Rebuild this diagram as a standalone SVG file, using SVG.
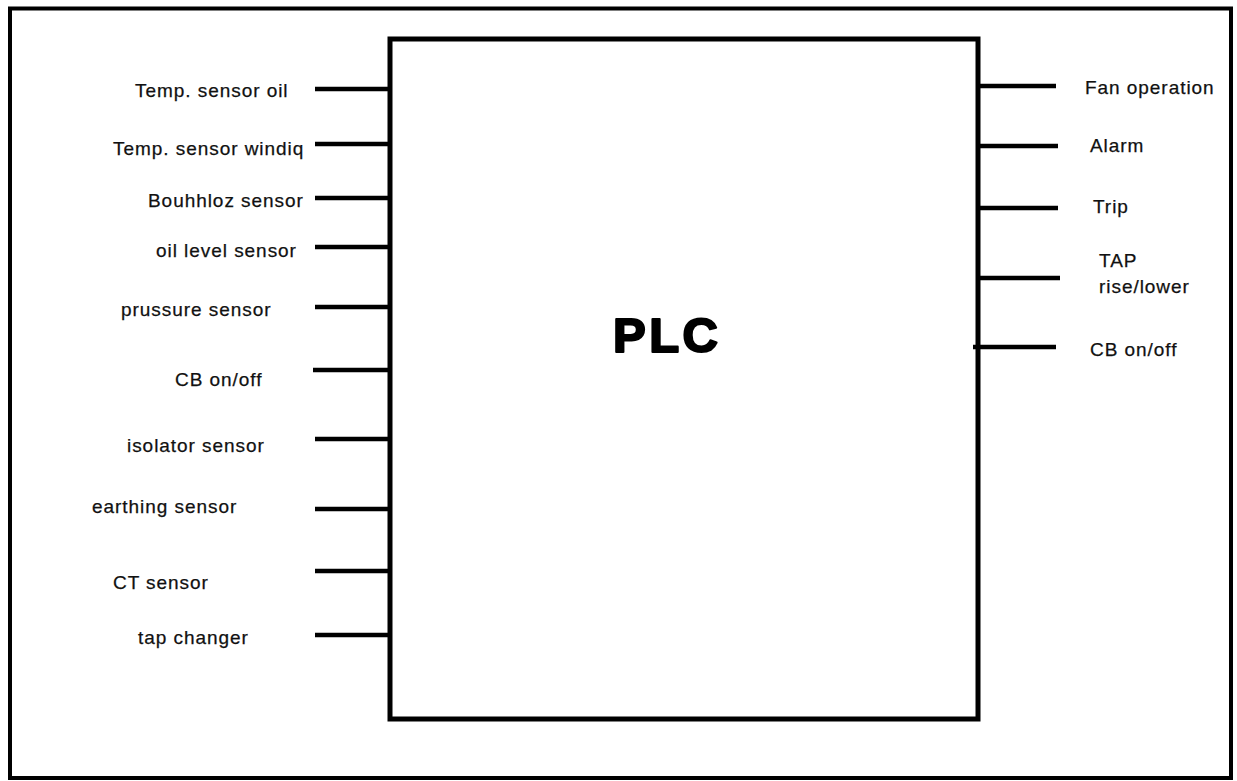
<svg xmlns="http://www.w3.org/2000/svg" width="1237" height="781" viewBox="0 0 1237 781">
<style>
.lbl{font-family:"Liberation Sans",Arial,sans-serif;font-size:19px;letter-spacing:0.95px;fill:#111;stroke:#111;stroke-width:0.25}
.wire{stroke:#000;stroke-width:4.5;fill:none}
.plc{font-family:"Liberation Sans",Arial,sans-serif;font-size:49px;font-weight:bold;fill:#000;stroke:#000;stroke-width:2.2;stroke-linejoin:round;letter-spacing:3.5px}
</style>
<rect width="1237" height="781" fill="#fff"/>
<rect id="frame" x="10" y="8.5" width="1221" height="769.5" fill="none" stroke="#000" stroke-width="4"/>
<g id="connectors">
<line class="wire" x1="315" y1="89" x2="390" y2="89"/>
<line class="wire" x1="315" y1="144" x2="390" y2="144"/>
<line class="wire" x1="315" y1="198" x2="390" y2="198"/>
<line class="wire" x1="315" y1="247" x2="390" y2="247"/>
<line class="wire" x1="315" y1="307" x2="390" y2="307"/>
<line class="wire" x1="313" y1="370" x2="390" y2="370"/>
<line class="wire" x1="315" y1="439" x2="390" y2="439"/>
<line class="wire" x1="315" y1="509" x2="390" y2="509"/>
<line class="wire" x1="315" y1="571" x2="390" y2="571"/>
<line class="wire" x1="315" y1="635" x2="390" y2="635"/>
<line class="wire" x1="978" y1="86" x2="1056" y2="86"/>
<line class="wire" x1="978" y1="146" x2="1058" y2="146"/>
<line class="wire" x1="978" y1="208" x2="1058" y2="208"/>
<line class="wire" x1="978" y1="278" x2="1060" y2="278"/>
<line class="wire" x1="973" y1="347" x2="1056" y2="347"/>
</g>
<g id="plc">
<rect x="390" y="39" width="588" height="680" fill="none" stroke="#000" stroke-width="5"/>
<text class="plc" x="613" y="352">PLC</text>
</g>
<g id="in-temp-oil"><text class="lbl" x="135" y="97">Temp. sensor oil</text></g>
<g id="in-temp-winding"><text class="lbl" x="113" y="155">Temp. sensor windiq</text></g>
<g id="in-buchholz"><text class="lbl" x="148" y="207">Bouhhloz sensor</text></g>
<g id="in-oil-level"><text class="lbl" x="156" y="257">oil level sensor</text></g>
<g id="in-pressure"><text class="lbl" x="121" y="316">prussure sensor</text></g>
<g id="in-cb"><text class="lbl" x="175" y="386">CB on/off</text></g>
<g id="in-isolator"><text class="lbl" x="127" y="452">isolator sensor</text></g>
<g id="in-earthing"><text class="lbl" x="92" y="513">earthing sensor</text></g>
<g id="in-ct"><text class="lbl" x="113" y="589">CT sensor</text></g>
<g id="in-tap"><text class="lbl" x="138" y="644">tap changer</text></g>
<g id="out-fan"><text class="lbl" x="1085" y="94">Fan operation</text></g>
<g id="out-alarm"><text class="lbl" x="1090" y="152">Alarm</text></g>
<g id="out-trip"><text class="lbl" x="1093" y="213">Trip</text></g>
<g id="out-tap"><text class="lbl" x="1099" y="267">TAP</text><text class="lbl" x="1099" y="293">rise/lower</text></g>
<g id="out-cb"><text class="lbl" x="1090" y="356">CB on/off</text></g>
</svg>
